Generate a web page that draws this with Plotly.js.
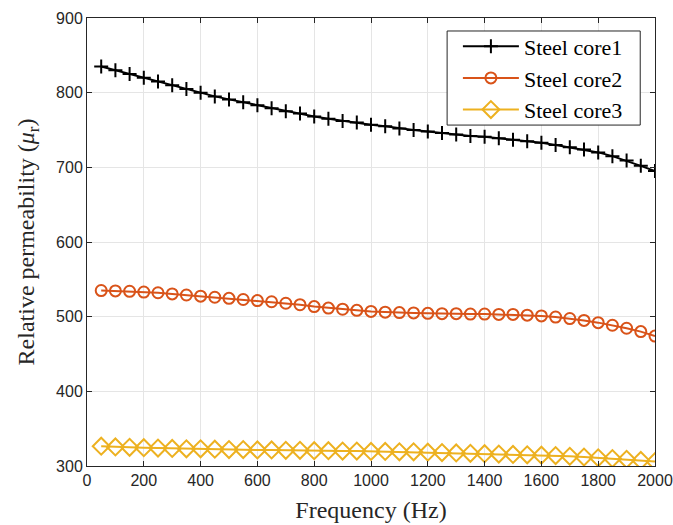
<!DOCTYPE html>
<html>
<head>
<meta charset="utf-8">
<script src="https://cdn.plot.ly/plotly-3.0.1.min.js"></script>
<style>html,body{margin:0;padding:0;background:#fff;}#chart{width:673px;height:525px;}</style>
</head>
<body>
<div id="chart"></div>
<script>
const freq = [50,100,150,200,250,300,350,400,450,500,550,600,650,700,750,800,850,900,950,1000,
              1050,1100,1150,1200,1250,1300,1350,1400,1450,1500,1550,1600,1650,1700,1750,1800,1850,1900,1950,2000];
const core1 = [835,830,825,820,815,810,805,800,795,791,787,783,779,775,772,768,765,762,760,757,
               755,752,750,748,746,744,742,741,739,737,735,733,730,727,724,720,715,709,702,695];
const core2 = [535,534.5,534,533,532,530.5,529,527.5,526,524.5,523,521.5,520,518,516,513.5,511.5,510,508.5,507,
               506,505.5,505,504.5,504,504,503.5,503.5,503,503,502,501,499.5,497.5,495,492,488.5,484.5,480,474];
const core3 = [326.5,325.5,325,324.5,324,323.5,323,323,322.5,322,322,321.5,321.5,321,321,320.5,320.5,320,320,319.5,
               319.5,319,319,318.5,318,317.5,317,316.5,316,315.5,315,314.5,314,313,312,311,310,309,307.5,306];
const names = ['Steel core1','Steel core2','Steel core3'];
const xTicks = [0,200,400,600,800,1000,1200,1400,1600,1800,2000];
const yTicks = [300,400,500,600,700,800,900];

const SERIF = "'Liberation Serif', 'Times New Roman', serif";
const SANS = "'Liberation Sans', Arial, sans-serif";

const traces = [
  {x:freq, y:core1, name:names[0], mode:'lines+markers',
   line:{color:'#000000', width:2},
   marker:{symbol:'cross-thin-open', size:10, color:'#000000', line:{color:'#000000', width:2}}},
  {x:freq, y:core2, name:names[1], mode:'lines+markers',
   line:{color:'#D95319', width:2},
   marker:{symbol:'circle-open', size:11, color:'#D95319', line:{color:'#D95319', width:2}}},
  {x:freq, y:core3, name:names[2], mode:'lines+markers',
   line:{color:'#EDB120', width:2},
   marker:{symbol:'diamond-open', size:13, color:'#EDB120', line:{color:'#EDB120', width:2}}}
];

const layout = {
  width:673, height:525,
  margin:{l:87, r:18, t:18, b:59},
  paper_bgcolor:'#ffffff', plot_bgcolor:'#ffffff',
  showlegend:true,
  legend:{x:0.653, y:0.866, xanchor:'left', yanchor:'middle', itemwidth:56,
          bgcolor:'rgba(0,0,0,0)', borderwidth:0,
          font:{family:SERIF, size:22, color:'#000'}},
  shapes:[{type:'rect', xref:'paper', yref:'paper', x0:0.634, x1:0.974, y0:0.761, y1:0.971,
           fillcolor:'#ffffff', line:{color:'#262626', width:1}, layer:'above'}],
  xaxis:{range:[0,2000], tickvals:xTicks, ticktext:xTicks.map(String),
         ticks:'inside', ticklen:5, tickcolor:'#262626',
         showline:true, linecolor:'#262626', linewidth:1, mirror:'allticks',
         showgrid:true, gridcolor:'#e5e5e5', gridwidth:1, zeroline:false,
         tickfont:{family:SANS, size:16, color:'#262626'},
         title:{text:'Frequency (Hz)', standoff:12,
                font:{family:SERIF, size:24, color:'#262626'}}},
  yaxis:{range:[300,900], tickvals:yTicks, ticktext:yTicks.map(String),
         ticks:'inside', ticklen:5, tickcolor:'#262626',
         showline:true, linecolor:'#262626', linewidth:1, mirror:'allticks',
         showgrid:true, gridcolor:'#e5e5e5', gridwidth:1, zeroline:false,
         tickfont:{family:SANS, size:16, color:'#262626'},
         title:{text:'Relative permeability (<i>μ</i><sub>r</sub>)', standoff:14,
                font:{family:SERIF, size:24, color:'#262626'}}}
};

Plotly.newPlot('chart', traces, layout, {displayModeBar:false, staticPlot:true});
</script>
</body>
</html>
